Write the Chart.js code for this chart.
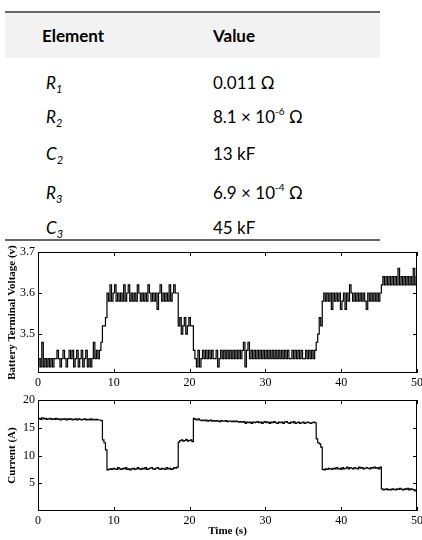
<!DOCTYPE html>
<html lang="en">
<head>
    <meta charset="UTF-8">
    <title>Battery model</title>
    <script src="https://cdn.jsdelivr.net/npm/chart.js"></script>
    <style>
        body { margin: 0; width: 422px; height: 540px; background: #fff; position: relative; overflow: hidden; }
        .tbl { font-family: Lato, "Open Sans", sans-serif; font-size: 17px; color: #000; }
        .line { position: absolute; left: 5px; width: 375px; height: 2px; background: #666; }
        .band { position: absolute; left: 5px; width: 375px; top: 12px; height: 46px; background: #f2f2f2; }
        .cell { position: absolute; line-height: 20px; white-space: nowrap; }
        .cell sub, .cell sup { position: relative; vertical-align: baseline; line-height: 0; }
        .cell sub { font-size: 11px; top: 4px; }
        .cell sup { font-size: 10px; top: -8px; }
        canvas { position: absolute; left: 0; }
    </style>
</head>
<body>

<div class="tbl">
    <div class="band"></div>
    <div class="line" style="top: 11px;"></div>
    <div class="cell" style="left: 42px; top: 26px; font-weight: bold;">Element</div>
    <div class="cell" style="left: 213px; top: 26px; font-weight: bold;">Value</div>

    <div class="cell" style="left: 46px; top: 73px;"><i>R<sub>1</sub></i></div>
    <div class="cell" style="left: 213px; top: 73px;">0.011 &Omega;</div>
    <div class="cell" style="left: 46px; top: 107px;"><i>R<sub>2</sub></i></div>
    <div class="cell" style="left: 213px; top: 107px;">8.1 &times; 10<sup>-6</sup> &Omega;</div>
    <div class="cell" style="left: 46px; top: 144px;"><i>C<sub>2</sub></i></div>
    <div class="cell" style="left: 213px; top: 144px;">13 kF</div>
    <div class="cell" style="left: 46px; top: 183px;"><i>R<sub>3</sub></i></div>
    <div class="cell" style="left: 213px; top: 183px;">6.9 &times; 10<sup>-4</sup> &Omega;</div>
    <div class="cell" style="left: 46px; top: 218px;"><i>C<sub>3</sub></i></div>
    <div class="cell" style="left: 213px; top: 218px;">45 kF</div>
    <div class="line" style="top: 239px;"></div>
</div>

<canvas id="voltChart" style="top: 245px;" width="422" height="145"></canvas>
<canvas id="currChart" style="top: 390px;" width="422" height="150"></canvas>

<script>
    // samples every 0.2 s, 0 .. 50 s
    const sampleStep = 0.2;

    const voltage = [
        3.42,3.44,3.42,3.48,3.42,3.44,3.42,3.44,3.42,3.44,
        3.42,3.44,3.44,3.46,3.44,3.42,3.44,3.46,3.44,3.42,
        3.44,3.46,3.44,3.46,3.42,3.44,3.46,3.42,3.44,3.46,
        3.42,3.44,3.46,3.42,3.44,3.42,3.44,3.48,3.44,3.46,
        3.44,3.46,
        3.48,3.52,3.52,3.54,
        3.60,3.58,3.62,3.58,3.60,3.62,3.58,3.60,3.58,3.60,
        3.58,3.62,3.58,3.60,3.62,3.58,3.60,3.58,3.60,3.58,
        3.62,3.60,3.58,3.60,3.58,3.60,3.58,3.62,3.60,3.58,
        3.60,3.58,3.60,3.56,3.60,3.62,3.58,3.60,3.58,3.60,
        3.58,3.62,3.58,3.60,3.62,3.60,3.60,
        3.52,3.54,3.50,3.52,3.54,3.50,3.52,3.54,3.52,3.52,
        3.46,3.44,3.42,3.46,3.42,3.44,3.46,3.44,3.46,3.44,
        3.46,3.44,3.46,3.44,3.44,3.46,3.42,3.44,3.46,3.44,
        3.46,3.44,3.46,3.44,3.46,3.44,3.46,3.44,3.46,3.44,
        3.46,3.44,3.46,3.48,3.42,3.46,3.48,3.44,3.46,3.44,
        3.46,3.44,3.46,3.44,3.46,3.44,3.46,3.44,3.46,3.44,
        3.46,3.44,3.46,3.44,3.46,3.44,3.46,3.44,3.46,3.44,
        3.46,3.44,3.46,3.44,3.44,3.46,3.44,3.46,3.44,3.46,
        3.44,3.46,3.44,3.44,3.46,3.44,3.46,3.44,3.46,3.44,
        3.46,
        3.48,3.50,3.54,3.52,
        3.58,3.60,3.58,3.60,3.58,3.60,3.56,3.60,3.58,3.60,
        3.58,3.60,3.56,3.58,3.60,3.56,3.60,3.58,3.62,3.60,
        3.58,3.60,3.58,3.60,3.58,3.60,3.58,3.60,3.58,3.56,
        3.60,3.58,3.60,3.58,3.60,3.58,3.60,3.58,3.60,
        3.62,3.64,3.62,3.64,3.62,3.64,3.62,3.64,3.62,3.64,
        3.62,3.66,3.62,3.64,3.62,3.64,3.62,3.64,3.62,3.64,
        3.62,3.66,3.62,3.64
    ];

    const current = [
        16.6,16.7,16.5,16.8,16.6,16.7,16.5,16.6,16.7,16.5,
        16.6,16.5,16.7,16.5,16.6,16.4,16.6,16.5,16.6,16.4,
        16.6,16.5,16.6,16.4,16.5,16.6,16.4,16.6,16.5,16.4,
        16.5,16.6,16.4,16.5,16.4,16.6,16.4,16.5,16.4,16.5,
        16.4,16.4,
        16.3,12.8,12.3,11.0,
        7.4,7.5,7.6,7.5,7.7,7.6,7.5,7.8,7.6,7.5,
        7.7,7.6,7.8,7.5,7.6,7.4,7.6,7.7,7.5,7.6,
        7.8,7.6,7.5,7.7,7.6,7.8,7.5,7.6,7.7,7.8,
        7.6,7.5,7.7,7.8,7.6,7.5,7.7,7.6,7.5,7.8,
        7.6,7.7,7.5,7.6,7.8,7.7,7.9,
        12.4,12.7,12.8,12.6,12.7,12.9,12.6,12.7,12.8,12.5,
        16.7,16.5,16.4,16.6,16.4,16.3,16.4,16.3,16.4,16.2,
        16.3,16.4,16.2,16.3,16.2,16.3,16.2,16.1,16.3,16.2,
        16.2,16.3,16.1,16.2,16.2,16.1,16.2,16.1,16.2,16.1,
        16.0,16.1,16.0,16.1,15.8,16.0,15.9,16.0,15.8,16.0,
        15.9,16.0,16.1,15.9,16.0,15.8,16.0,16.1,15.9,16.0,
        15.8,16.0,15.9,16.1,15.9,15.8,16.0,15.9,16.0,15.8,
        16.0,16.1,15.9,15.8,16.0,15.9,16.1,15.8,15.9,16.0,
        15.8,15.9,16.0,15.8,15.9,16.0,15.9,15.8,15.9,16.0,
        15.9,
        13.0,12.3,12.1,11.5,
        7.5,7.4,7.6,7.5,7.7,7.6,7.5,7.7,7.6,7.8,
        7.6,7.7,7.5,7.8,7.6,7.7,7.9,7.6,7.8,7.7,
        7.6,7.8,7.7,7.6,7.9,7.7,7.8,7.6,7.7,7.8,
        7.7,7.6,7.8,7.7,7.9,7.7,7.8,7.6,7.9,
        4.0,3.8,3.9,4.0,3.8,3.9,3.8,4.0,3.9,3.8,
        4.0,3.9,4.1,3.9,3.8,4.0,3.9,4.1,3.8,4.0,
        3.9,3.8,3.6,3.9
    ];

    const timeTicks = [0, 10, 20, 30, 40, 50];
    const voltTicks = [3.5, 3.6, 3.7];
    const currTicks = [5, 10, 15, 20];

    const serif = "'Liberation Serif', 'DejaVu Serif', serif";

    // matlab style box with inward ticks on all four sides
    const boxTicks = {
        id: 'boxTicks',
        afterDraw(chart) {
            const ctx = chart.ctx;
            const a = chart.chartArea;
            const x = chart.scales.x, y = chart.scales.y;
            ctx.save();
            ctx.strokeStyle = '#000';
            ctx.lineWidth = 1;
            ctx.strokeRect(Math.round(a.left) + 0.5, Math.round(a.top) + 0.5,
                Math.round(a.width) - 1, Math.round(a.height) - 1);
            ctx.beginPath();
            x.ticks.forEach(t => {
                const px = Math.round(x.getPixelForValue(t.value)) + 0.5;
                ctx.moveTo(px, a.bottom); ctx.lineTo(px, a.bottom - 4);
                ctx.moveTo(px, a.top); ctx.lineTo(px, a.top + 4);
            });
            y.ticks.forEach(t => {
                const py = Math.round(y.getPixelForValue(t.value)) + 0.5;
                ctx.moveTo(a.left, py); ctx.lineTo(a.left + 4, py);
                ctx.moveTo(a.right, py); ctx.lineTo(a.right - 4, py);
            });
            ctx.stroke();
            ctx.restore();
        }
    };

    function makeChart(id, values, yMin, yMax, yTicks, yTitle, xTitle, xHeight, pad) {
        const pts = values.map((v, i) => ({x: i * sampleStep, y: v}));
        return new Chart(document.getElementById(id), {
            type: 'line',
            data: {
                datasets: [{
                    data: pts,
                    borderColor: '#000',
                    borderWidth: 1.2,
                    pointRadius: 0,
                    stepped: 'middle',
                    fill: false
                }]
            },
            options: {
                responsive: false,
                animation: false,
                events: [],
                layout: {padding: pad},
                plugins: {legend: {display: false}, tooltip: {enabled: false}},
                scales: {
                    x: {
                        type: 'linear',
                        min: 0, max: 50,
                        grid: {display: false, drawTicks: false},
                        border: {display: false},
                        afterBuildTicks: s => { s.ticks = timeTicks.map(v => ({value: v})); },
                        afterFit: s => { s.height = xHeight; s.paddingLeft = 0; s.paddingRight = 0; },
                        ticks: {
                            color: '#000', padding: 3, maxRotation: 0,
                            font: {family: serif, size: 12},
                            callback: v => String(v)
                        },
                        title: {
                            display: !!xTitle, text: xTitle, color: '#000',
                            padding: {top: 0, bottom: 2},
                            font: {family: serif, size: 11, weight: 'bold'}
                        }
                    },
                    y: {
                        min: yMin, max: yMax,
                        grid: {display: false, drawTicks: false},
                        border: {display: false},
                        afterBuildTicks: s => { s.ticks = yTicks.map(v => ({value: v})); },
                        afterFit: s => { s.width = 38; s.paddingTop = 0; s.paddingBottom = 0; },
                        ticks: {
                            color: '#000', padding: 3,
                            font: {family: serif, size: 12},
                            callback: v => (yMax < 5 ? v.toFixed(1) : String(v))
                        },
                        title: {
                            display: true, text: yTitle, color: '#000',
                            padding: {top: 6, bottom: 0},
                            font: {family: serif, size: 11, weight: 'bold'}
                        }
                    }
                }
            },
            plugins: [boxTicks]
        });
    }

    makeChart('voltChart', voltage, 3.405, 3.7, voltTicks,
        'Battery Terminal Voltage (v)', '', 17, {top: 7, right: 5, left: 0, bottom: 0});
    makeChart('currChart', current, 0, 20, currTicks,
        'Current (A)', 'Time (s)', 29, {top: 10, right: 5, left: 0, bottom: 0});
</script>
</body>
</html>
